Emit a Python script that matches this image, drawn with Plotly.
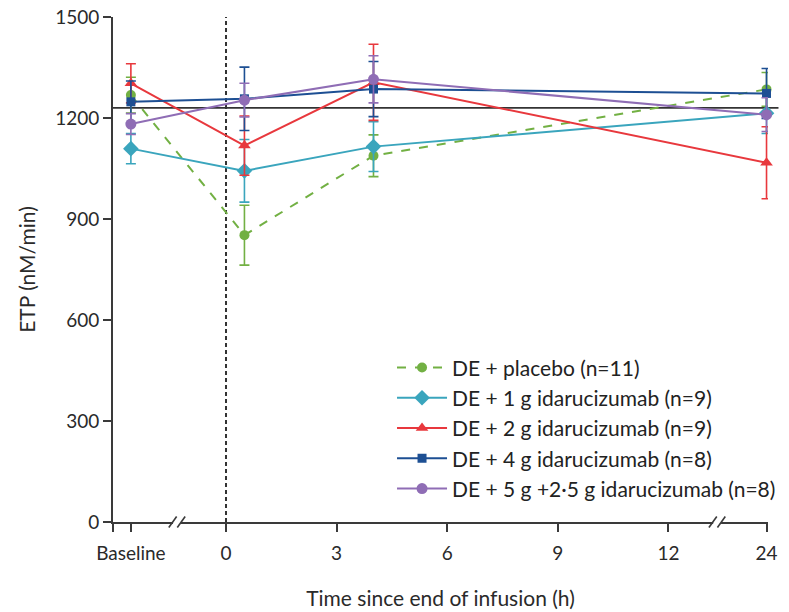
import plotly.graph_objects as go

# Sampling times (hours after end of infusion; "Baseline" is pre-dose)
time_labels = ["Baseline", "0.5", "4", "24"]
hours = [None, 0.5, 4, 24]

# Mean ETP (nM/min) and SE for each treatment group
groups = [
    "DE + placebo (n=11)",
    "DE + 1 g idarucizumab (n=9)",
    "DE + 2 g idarucizumab (n=9)",
    "DE + 4 g idarucizumab (n=8)",
    "DE + 5 g +2·5 g idarucizumab (n=8)",
]
placebo_mean = [1268, 852, 1088, 1285]
placebo_err = [53, 89, 62, 50]
g1_mean = [1109, 1043, 1115, 1214]
g1_err = [45, 93, 74, 60]
g2_mean = [1303, 1118, 1306, 1067]
g2_err = [58, 88, 113, 107]
g4_mean = [1248, 1257, 1286, 1273]
g4_err = [62, 94, 82, 74]
g5_mean = [1182, 1253, 1315, 1210]
g5_err = [31, 50, 70, 50]

reference_etp = 1230

x_tick_values = ["Baseline", 0, 3, 6, 9, 12, 24]

# Broken time axis: Baseline sits left of 0, and 24 h is pulled in after 12 h
BASELINE_POS = -2.58
POS_24 = 14.66
X_RANGE = [-3.065, 14.70]


def axis_pos(h):
    if h is None or h == "Baseline":
        return BASELINE_POS
    if h >= 24:
        return POS_24
    return h


def paper_x(pos):
    return (pos - X_RANGE[0]) / (X_RANGE[1] - X_RANGE[0])


xs = [axis_pos(h) for h in hours]

styles = [
    dict(color="#72b043", symbol="circle", size=10, dash="dash"),
    dict(color="#3aa5bd", symbol="diamond", size=12, dash="solid"),
    dict(color="#e8383d", symbol="triangle-up", size=11, dash="solid"),
    dict(color="#1d4f93", symbol="square", size=9, dash="solid"),
    dict(color="#8f6db5", symbol="circle", size=11, dash="solid"),
]
series = [
    (placebo_mean, placebo_err),
    (g1_mean, g1_err),
    (g2_mean, g2_err),
    (g4_mean, g4_err),
    (g5_mean, g5_err),
]

fig = go.Figure()
for name, (m, e), st in zip(groups, series, styles):
    fig.add_trace(go.Scatter(
        x=xs, y=m, name=name, mode="lines+markers",
        line=dict(color=st["color"], width=2, dash=st["dash"]),
        marker=dict(color=st["color"], symbol=st["symbol"], size=st["size"]),
        error_y=dict(type="data", array=e, color=st["color"], thickness=1.6, width=5),
        cliponaxis=False, legendgroup=name,
    ))

FONT = "Lato, Roboto, Arial, sans-serif"
AX = "#3a3a3a"

shapes = [
    # reference ETP level
    dict(type="line", xref="paper", yref="y", x0=0, x1=1.016, y0=reference_etp, y1=reference_etp,
         line=dict(color="#333333", width=1.8), layer="below"),
    # end of infusion
    dict(type="line", xref="x", yref="y", x0=0, x1=0, y0=0, y1=1500,
         line=dict(color="#333333", width=2, dash="4px,3px"), layer="below"),
    # short stub of the time axis left of the y axis
    dict(type="line", xref="paper", yref="paper", x0=-0.013, x1=0, y0=0, y1=0,
         line=dict(color=AX, width=1.6)),
]
# axis break marks
for pos in (-1.33, 13.32):
    px = paper_x(pos)
    shapes.append(dict(type="rect", xref="paper", yref="paper", x0=px - 0.006, x1=px + 0.006,
                       y0=-0.004, y1=0.004, fillcolor="white", line=dict(width=0)))
    for off in (-0.0065, 0.0065):
        shapes.append(dict(type="line", xref="paper", yref="paper",
                           x0=px + off - 0.006, x1=px + off + 0.006, y0=-0.011, y1=0.011,
                           line=dict(color=AX, width=1.6)))

tick_pos = [X_RANGE[0]] + [axis_pos(v) for v in x_tick_values]
tick_txt = [""] + [str(v) for v in x_tick_values]

fig.update_layout(
    width=789, height=612,
    margin=dict(l=113, r=21, t=17, b=90, autoexpand=False),
    paper_bgcolor="white", plot_bgcolor="white",
    font=dict(family=FONT, size=19, color="#2a2a2a"),
    showlegend=True,
    legend=dict(x=0.426, y=0.346, xanchor="left", yanchor="top",
                font=dict(size=21, color="#222222"), bgcolor="rgba(0,0,0,0)",
                itemwidth=50, tracegroupgap=8, traceorder="normal"),
    shapes=shapes,
    xaxis=dict(
        range=X_RANGE, automargin=False,
        tickmode="array",
        tickvals=tick_pos,
        ticktext=tick_txt,
        ticks="outside", ticklen=8, tickwidth=1.6, tickcolor=AX,
        ticklabelstandoff=5,
        showline=True, linecolor=AX, linewidth=1.6,
        showgrid=False, zeroline=False,
        title=dict(text="Time since end of infusion (h)", font=dict(size=21), standoff=29),
        tickfont=dict(size=19),
    ),
    yaxis=dict(
        range=[0, 1500], automargin=False,
        tickvals=[0, 300, 600, 900, 1200, 1500],
        ticks="outside", ticklen=8, tickwidth=1.6, tickcolor=AX,
        showline=True, linecolor=AX, linewidth=1.6,
        showgrid=False, zeroline=False,
        title=dict(text="ETP (nM/min)", font=dict(size=21), standoff=14),
        tickfont=dict(size=19),
    ),
)

fig.write_html("out.html")
